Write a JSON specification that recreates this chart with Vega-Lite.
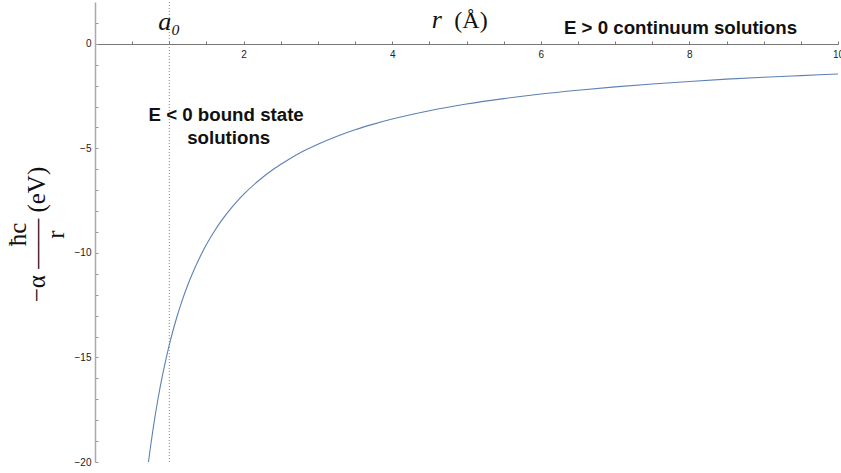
{
  "$schema": "https://vega.github.io/schema/vega-lite/v6.json",
  "width": 743,
  "height": 460,
  "autosize": "none",
  "padding": {"left": 95, "top": 2, "right": 3, "bottom": 11},
  "background": "white",
  "config": {
    "view": {"stroke": null},
    "axis": {
      "grid": false,
      "labelFont": "Liberation Sans",
      "labelFontSize": 10,
      "labelColor": "#222",
      "labelOverlap": false,
      "labelFlush": false,
      "labelBound": false
    }
  },
  "datasets": {
    "potential": [
      {"r": 0.72, "v": -20.0},
      {"r": 0.74, "v": -19.46},
      {"r": 0.76, "v": -18.95},
      {"r": 0.78, "v": -18.46},
      {"r": 0.8, "v": -18.0},
      {"r": 0.82, "v": -17.56},
      {"r": 0.85, "v": -16.94},
      {"r": 0.88, "v": -16.36},
      {"r": 0.9, "v": -16.0},
      {"r": 0.95, "v": -15.16},
      {"r": 1.0, "v": -14.4},
      {"r": 1.05, "v": -13.71},
      {"r": 1.1, "v": -13.09},
      {"r": 1.15, "v": -12.52},
      {"r": 1.2, "v": -12.0},
      {"r": 1.25, "v": -11.52},
      {"r": 1.3, "v": -11.08},
      {"r": 1.35, "v": -10.67},
      {"r": 1.4, "v": -10.29},
      {"r": 1.45, "v": -9.93},
      {"r": 1.5, "v": -9.6},
      {"r": 1.6, "v": -9.0},
      {"r": 1.7, "v": -8.47},
      {"r": 1.8, "v": -8.0},
      {"r": 1.9, "v": -7.58},
      {"r": 2.0, "v": -7.2},
      {"r": 2.2, "v": -6.55},
      {"r": 2.4, "v": -6.0},
      {"r": 2.6, "v": -5.54},
      {"r": 2.8, "v": -5.14},
      {"r": 3.0, "v": -4.8},
      {"r": 3.25, "v": -4.43},
      {"r": 3.5, "v": -4.11},
      {"r": 3.75, "v": -3.84},
      {"r": 4.0, "v": -3.6},
      {"r": 4.5, "v": -3.2},
      {"r": 5.0, "v": -2.88},
      {"r": 5.5, "v": -2.62},
      {"r": 6.0, "v": -2.4},
      {"r": 6.5, "v": -2.22},
      {"r": 7.0, "v": -2.06},
      {"r": 7.5, "v": -1.92},
      {"r": 8.0, "v": -1.8},
      {"r": 8.5, "v": -1.69},
      {"r": 9.0, "v": -1.6},
      {"r": 9.5, "v": -1.52},
      {"r": 10.0, "v": -1.44}
    ],
    "bohr": [{"r": 1.0}],
    "notes": [
      {"r": 1.765, "v": -3.42, "text": "E < 0 bound state"},
      {"r": 1.8, "v": -4.5, "text": "solutions"},
      {"r": 7.88, "v": 0.77, "text": "E > 0 continuum solutions"}
    ],
    "italicSymbols": [
      {"r": 1.0, "v": 0.67, "text": "a₀"},
      {"r": 4.6, "v": 0.75, "text": "r"}
    ],
    "uprightSymbols": [
      {"r": 5.06, "v": 0.75, "text": "(Å)"}
    ]
  },
  "encoding": {
    "x": {
      "field": "r",
      "type": "quantitative",
      "scale": {"domain": [0, 10], "nice": false, "zero": false},
      "axis": {
        "orient": "bottom",
        "offset": -418,
        "title": null,
        "values": [0.5, 1, 1.5, 2, 2.5, 3, 3.5, 4, 4.5, 5, 5.5, 6, 6.5, 7, 7.5, 8, 8.5, 9, 9.5, 10],
        "format": "~g",
        "labelExpr": "datum.value % 2 === 0 ? datum.label : ''",
        "tickSize": -3,
        "tickColor": "#777",
        "domainColor": "#777",
        "domainWidth": 1,
        "labelPadding": 8
      }
    }
  },
  "layer": [
    {
      "data": {"name": "bohr"},
      "mark": {"type": "rule", "color": "#8a8a8a", "strokeWidth": 1, "strokeDash": [1, 2]},
      "encoding": {}
    },
    {
      "data": {"name": "potential"},
      "mark": {"type": "line", "color": "#5E81B5", "strokeWidth": 1.1, "interpolate": "monotone", "clip": true},
      "encoding": {
        "y": {
          "field": "v",
          "type": "quantitative",
          "scale": {"domain": [-20, 2], "nice": false, "zero": false},
          "axis": {
            "orient": "left",
            "values": [-20, -19, -18, -17, -16, -15, -14, -13, -12, -11, -10, -9, -8, -7, -6, -5, -4, -3, -2, -1, 0, 1],
            "format": "~g",
            "labelExpr": "datum.value % 5 === 0 ? datum.label : ''",
            "tickSize": -3,
            "tickColor": "#999",
            "domainColor": "#aaa",
            "domainWidth": 1.5,
            "labelPadding": 7,
            "title": ["\u00a0\u00a0\u00a0ħc", "−α —— (eV)", "\u00a0\u00a0\u00a0r"],
            "titleFont": "Liberation Serif",
            "titleFontSize": 25,
            "titleFontWeight": "normal",
            "titleColor": "#111",
            "titleLineHeight": 19,
            "titleX": -78,
            "titleY": 232,
            "titleAngle": -90,
            "titleBaseline": "middle",
            "titleAlign": "center"
          }
        }
      }
    },
    {
      "data": {"name": "notes"},
      "mark": {"type": "text", "font": "Liberation Sans", "fontWeight": "bold", "fontSize": 18.7, "color": "#111", "baseline": "middle", "align": "center"},
      "encoding": {
        "y": {
          "field": "v",
          "type": "quantitative",
          "scale": {"domain": [-20, 2], "nice": false, "zero": false},
          "axis": {
            "orient": "left",
            "values": [-20, -19, -18, -17, -16, -15, -14, -13, -12, -11, -10, -9, -8, -7, -6, -5, -4, -3, -2, -1, 0, 1],
            "format": "~g",
            "labelExpr": "datum.value % 5 === 0 ? datum.label : ''",
            "tickSize": -3,
            "tickColor": "#999",
            "domainColor": "#aaa",
            "domainWidth": 1.5,
            "labelPadding": 7,
            "title": ["\u00a0\u00a0\u00a0ħc", "−α —— (eV)", "\u00a0\u00a0\u00a0r"],
            "titleFont": "Liberation Serif",
            "titleFontSize": 25,
            "titleFontWeight": "normal",
            "titleColor": "#111",
            "titleLineHeight": 19,
            "titleX": -78,
            "titleY": 232,
            "titleAngle": -90,
            "titleBaseline": "middle",
            "titleAlign": "center"
          }
        },
        "text": {"field": "text", "type": "nominal"}
      }
    },
    {
      "data": {"name": "italicSymbols"},
      "mark": {"type": "text", "font": "Liberation Serif", "fontStyle": "italic", "fontSize": 26, "color": "#111", "baseline": "alphabetic", "align": "center"},
      "encoding": {
        "y": {
          "field": "v",
          "type": "quantitative",
          "scale": {"domain": [-20, 2], "nice": false, "zero": false},
          "axis": {
            "orient": "left",
            "values": [-20, -19, -18, -17, -16, -15, -14, -13, -12, -11, -10, -9, -8, -7, -6, -5, -4, -3, -2, -1, 0, 1],
            "format": "~g",
            "labelExpr": "datum.value % 5 === 0 ? datum.label : ''",
            "tickSize": -3,
            "tickColor": "#999",
            "domainColor": "#aaa",
            "domainWidth": 1.5,
            "labelPadding": 7,
            "title": ["\u00a0\u00a0\u00a0ħc", "−α —— (eV)", "\u00a0\u00a0\u00a0r"],
            "titleFont": "Liberation Serif",
            "titleFontSize": 25,
            "titleFontWeight": "normal",
            "titleColor": "#111",
            "titleLineHeight": 19,
            "titleX": -78,
            "titleY": 232,
            "titleAngle": -90,
            "titleBaseline": "middle",
            "titleAlign": "center"
          }
        },
        "text": {"field": "text", "type": "nominal"}
      }
    },
    {
      "data": {"name": "uprightSymbols"},
      "mark": {"type": "text", "font": "Liberation Serif", "fontSize": 24, "color": "#111", "baseline": "alphabetic", "align": "center"},
      "encoding": {
        "y": {
          "field": "v",
          "type": "quantitative",
          "scale": {"domain": [-20, 2], "nice": false, "zero": false},
          "axis": {
            "orient": "left",
            "values": [-20, -19, -18, -17, -16, -15, -14, -13, -12, -11, -10, -9, -8, -7, -6, -5, -4, -3, -2, -1, 0, 1],
            "format": "~g",
            "labelExpr": "datum.value % 5 === 0 ? datum.label : ''",
            "tickSize": -3,
            "tickColor": "#999",
            "domainColor": "#aaa",
            "domainWidth": 1.5,
            "labelPadding": 7,
            "title": ["\u00a0\u00a0\u00a0ħc", "−α —— (eV)", "\u00a0\u00a0\u00a0r"],
            "titleFont": "Liberation Serif",
            "titleFontSize": 25,
            "titleFontWeight": "normal",
            "titleColor": "#111",
            "titleLineHeight": 19,
            "titleX": -78,
            "titleY": 232,
            "titleAngle": -90,
            "titleBaseline": "middle",
            "titleAlign": "center"
          }
        },
        "text": {"field": "text", "type": "nominal"}
      }
    }
  ]
}
